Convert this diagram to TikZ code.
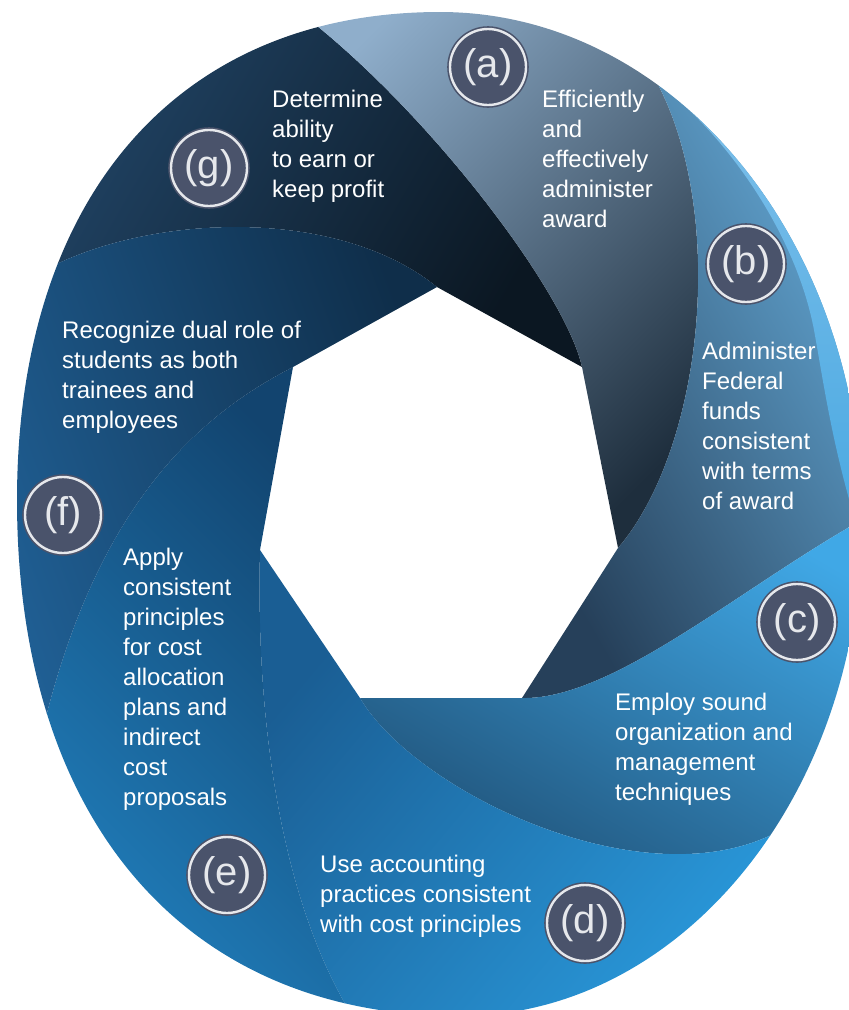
\documentclass[tikz,border=0pt]{standalone}
\usepackage{fontspec}
\setmainfont{Liberation Sans}
\usetikzlibrary{shadows}

\definecolor{discFill}{HTML}{4A536B}
\definecolor{discRing}{HTML}{E6E8EC}
\definecolor{gLight}{HTML}{244B70}
\definecolor{gDark}{HTML}{0B1722}
\definecolor{aLight}{HTML}{8FAECB}
\definecolor{aDark}{HTML}{1E2E3D}
\definecolor{bDark}{HTML}{26405A}
\definecolor{bMid}{HTML}{4E7898}
\definecolor{bLight}{HTML}{6DB8E8}
\definecolor{stripTop}{HTML}{8CC6EC}
\definecolor{stripLow}{HTML}{4AA9E2}
\definecolor{cDark}{HTML}{1E4D72}
\definecolor{cLight}{HTML}{40A8E6}
\definecolor{dDark}{HTML}{1A5E94}
\definecolor{dLight}{HTML}{2CA2E6}
\definecolor{eLight}{HTML}{2286C6}
\definecolor{eDark}{HTML}{12446F}
\definecolor{fLight}{HTML}{21639A}
\definecolor{fDark}{HTML}{0F2E4A}

\tikzset{
  steptext/.style={text=white, align=left, anchor=north west, inner sep=0pt,
    font=\fontsize{24}{30}\selectfont},
  letterdisc/.style={circle, minimum size=76pt, inner sep=0pt, fill=discFill,
    draw=discFill, line width=1.6pt, double=discRing, double distance=2.4pt,
    text=discRing, font=\fontsize{40}{40}\selectfont,
    drop shadow={opacity=0.45, shadow xshift=1.5pt, shadow yshift=-2pt}},
}

% outline of blade b, used twice
\newcommand{\bladeB}{(LR) -- (R) .. controls (b2a) and (b2b) .. (e2) -- (640,-40) -- (900,-40)
  -- (900,505) -- (e3) .. controls (b3b) and (b3a) .. (LR) -- cycle}

\begin{document}
\begin{tikzpicture}[x=1pt, y=-1pt]
\useasboundingbox (0,0) rectangle (849,1010);

% corners of the open centre
\coordinate (T) at (437,287);
\coordinate (UR) at (582,367);
\coordinate (R) at (618,548);
\coordinate (LR) at (522,698);
\coordinate (LL) at (360,698);
\coordinate (L) at (260,550);
\coordinate (UL) at (293,367);

% blade edges: corner .. two controls .. exit outside the ring
\coordinate (b0a) at (330,200); \coordinate (b0b) at (120,215); \coordinate (e0) at (20,285);
\coordinate (b1a) at (565,290); \coordinate (b1b) at (420,100); \coordinate (e1) at (290,5);
\coordinate (b2a) at (710,440); \coordinate (b2b) at (730,180); \coordinate (e2) at (640,55);
\coordinate (b3a) at (620,700); \coordinate (b3b) at (760,570); \coordinate (e3) at (890,505);
\coordinate (b4a) at (420,800); \coordinate (b4b) at (690,925); \coordinate (e4) at (815,805);
\coordinate (b5a) at (255,750); \coordinate (b5b) at (290,930); \coordinate (e5) at (365,1035);
\coordinate (b6a) at (190,420); \coordinate (b6b) at (80,520); \coordinate (e6) at (30,790);

\begin{scope}
% outer rim
\clip (440,12) .. controls (673,12) and (862,240) .. (862,520)
  .. controls (862,794) and (682,1016) .. (460,1016)
  .. controls (185,1016) and (17,820) .. (17,500)
  .. controls (17,197) and (178,12) .. (440,12) -- cycle;
% g
\shade[left color=gLight, right color=gDark, shading angle=60]
  (UR) -- (T) .. controls (b0a) and (b0b) .. (e0) -- (-40,285) -- (-40,-40) -- (290,-40)
  -- (e1) .. controls (b1b) and (b1a) .. (UR) -- cycle;
% a
\shade[left color=aLight, right color=aDark, shading angle=45]
  (R) -- (UR) .. controls (b1a) and (b1b) .. (e1) -- (290,-40) -- (640,-40)
  -- (e2) .. controls (b2b) and (b2a) .. (R) -- cycle;
% b
\shade[left color=bDark, middle color=bMid, right color=bLight, shading angle=120] \bladeB;
\begin{scope}
\clip \bladeB;
\shade[top color=stripTop, bottom color=stripLow]
  (652,78) .. controls (728,135) and (796,235) .. (814,330)
  .. controls (824,385) and (832,445) .. (858,530) -- (900,530) -- (900,-40) -- (652,-40) -- cycle;
\end{scope}
% c
\shade[left color=cDark, right color=cLight, shading angle=150]
  (LL) -- (LR) .. controls (b3a) and (b3b) .. (e3) -- (900,505) -- (900,805)
  -- (e4) .. controls (b4b) and (b4a) .. (LL) -- cycle;
% d
\shade[left color=dDark, right color=dLight, shading angle=50]
  (L) -- (LL) .. controls (b4a) and (b4b) .. (e4) -- (900,805) -- (900,1050) -- (365,1050)
  -- (e5) .. controls (b5b) and (b5a) .. (L) -- cycle;
% e
\shade[left color=eLight, right color=eDark, shading angle=135]
  (UL) -- (L) .. controls (b5a) and (b5b) .. (e5) -- (365,1050) -- (-40,1050) -- (-40,790)
  -- (e6) .. controls (b6b) and (b6a) .. (UL) -- cycle;
% f
\shade[left color=fLight, right color=fDark, shading angle=110]
  (T) -- (UL) .. controls (b6a) and (b6b) .. (e6) -- (-40,790) -- (-40,285)
  -- (e0) .. controls (b0b) and (b0a) .. (T) -- cycle;
\end{scope}

% letters
\node[letterdisc] (discA) at (488,67) {(a)};
\node[letterdisc] (discB) at (746,264) {(b)};
\node[letterdisc] (discC) at (797,622) {(c)};
\node[letterdisc] (discD) at (585,923) {(d)};
\node[letterdisc] (discE) at (227,875) {(e)};
\node[letterdisc] (discF) at (63,515) {(f)};
\node[letterdisc] (discG) at (209,168) {(g)};

% texts
\node[steptext] (textA) at (542,90) {Efficiently\\and\\effectively\\administer\\award};
\node[steptext] (textB) at (702,342) {Administer\\Federal\\funds\\consistent\\with terms\\of award};
\node[steptext] (textC) at (615,693) {Employ sound\\organization and\\management\\techniques};
\node[steptext] (textD) at (320,855) {Use accounting\\practices consistent\\with cost principles};
\node[steptext] (textE) at (123,548) {Apply\\consistent\\principles\\for cost\\allocation\\plans and\\indirect\\cost\\proposals};
\node[steptext] (textF) at (62,321) {Recognize dual role of\\students as both\\trainees and\\employees};
\node[steptext] (textG) at (272,90) {Determine\\ability\\to earn or\\keep profit};
\end{tikzpicture}
\end{document}
